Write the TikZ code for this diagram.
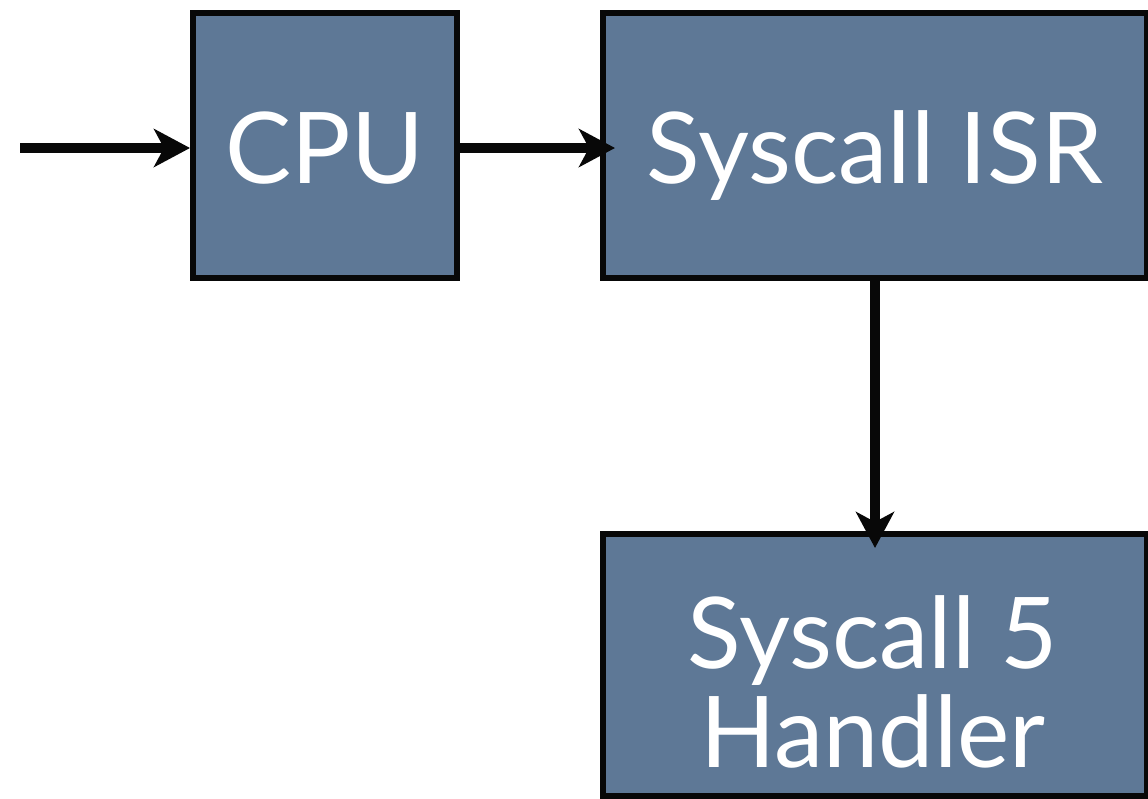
\documentclass[tikz,border=0pt]{standalone}
\usepackage{fontspec}
\setmainfont{Lato}
\usetikzlibrary{arrows.meta}
\definecolor{boxblue}{RGB}{94,120,150}
\definecolor{edge}{RGB}{8,8,8}
\tikzset{
  blk/.style={draw=edge, fill=boxblue, line width=6pt, outer sep=0pt, inner sep=0pt},
  lbl/.style={text=white, font=\fontsize{99}{99}\selectfont, inner sep=0pt, anchor=base},
  conn/.style={draw=edge, line width=10pt, -{Stealth[length=36pt, width=38pt, inset=10pt]}}
}
\begin{document}
\begin{tikzpicture}[x=1pt, y=1pt]
\useasboundingbox (0,0) rectangle (1148,-798);
\clip (0,0) rectangle (1148,-798);
\node[blk, minimum width=264pt, minimum height=265pt] (cpu) at (325,-145.5) {};
\node[blk, minimum width=544pt, minimum height=265pt] (isr) at (875,-145.5) {};
\node[blk, minimum width=544pt, minimum height=262pt] (handler) at (875,-665) {};
\node[lbl] (cputext) at (325,-183) {CPU};
\node[lbl] (isrtext) at (875,-183) {Syscall ISR};
\node[lbl] (h1) at (873,-668) {Syscall 5};
\node[lbl] (h2) at (873,-767) {Handler};
\coordinate (start) at (20,-148);
\draw[conn, shorten >=3pt] (start) -- (cpu.west |- start);
\draw[conn, shorten >=-12pt] (cpu.east |- start) -- (isr.west |- start);
\draw[conn, shorten >=-14pt] (isr.south) -- (handler.north);
\end{tikzpicture}
\end{document}
